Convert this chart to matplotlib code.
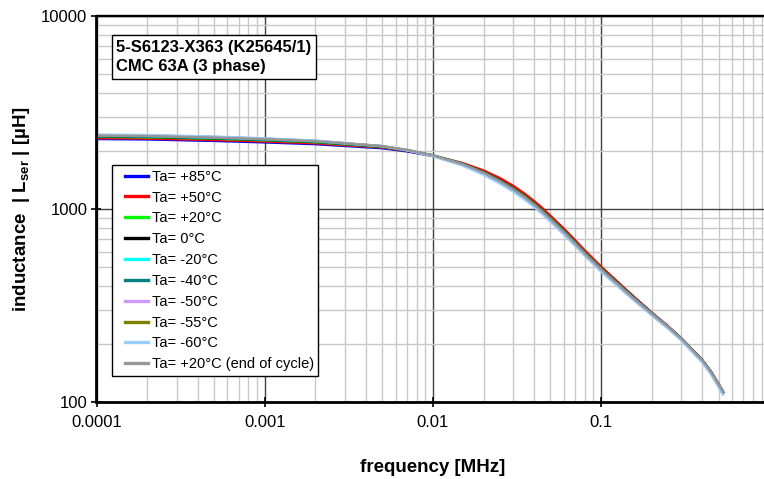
import matplotlib
matplotlib.use("Agg")
import matplotlib.pyplot as plt
from matplotlib.ticker import LogLocator, FixedLocator, FixedFormatter, NullFormatter

plt.rcParams['font.family'] = ['Liberation Sans', 'DejaVu Sans']
plt.rcParams['mathtext.fontset'] = 'custom'
plt.rcParams['mathtext.rm'] = 'Liberation Sans'
plt.rcParams['mathtext.bf'] = 'Liberation Sans:bold'

# frequency points [MHz]
freq = [0.0001, 0.0002, 0.0005, 0.001, 0.002, 0.005, 0.007, 0.01, 0.015, 0.02,
        0.025, 0.03, 0.035, 0.04, 0.045, 0.05, 0.06, 0.07, 0.08, 0.1,
        0.15, 0.2, 0.25, 0.3, 0.4, 0.45, 0.5, 0.53]

# |Lser| [uH] per temperature
L_p85 = [2304, 2293, 2252, 2213, 2167, 2064, 1989, 1880, 1718, 1572,
         1435, 1309, 1193, 1090, 999, 916, 787, 684, 606, 500,
         362, 290, 246, 213, 164, 143, 123, 113]
L_p50 = [2328, 2317, 2276, 2236, 2190, 2081, 2005, 1895, 1730, 1583,
         1445, 1318, 1201, 1097, 1006, 920, 790, 688, 609, 502,
         362, 290, 247, 214, 165, 144, 124, 114]
L_p20 = [2364, 2353, 2311, 2268, 2217, 2095, 2011, 1899, 1714, 1549,
         1403, 1277, 1165, 1064, 975, 894, 768, 670, 594, 491,
         357, 288, 245, 213, 164, 143, 123, 113]
L_0 = [2376, 2365, 2323, 2279, 2228, 2102, 2013, 1895, 1711, 1546,
       1399, 1271, 1159, 1058, 970, 889, 764, 666, 591, 488,
       356, 287, 245, 213, 164, 143, 122, 112]
L_m20 = [2388, 2377, 2334, 2289, 2237, 2110, 2019, 1895, 1705, 1538,
         1390, 1263, 1151, 1051, 963, 883, 758, 661, 586, 484,
         354, 286, 244, 212, 163, 142, 122, 112]
L_m40 = [2400, 2389, 2346, 2300, 2245, 2112, 2018, 1890, 1698, 1530,
         1382, 1254, 1142, 1043, 956, 877, 753, 657, 583, 482,
         352, 285, 243, 211, 163, 142, 122, 112]
L_m50 = [2412, 2401, 2357, 2310, 2253, 2115, 2018, 1885, 1692, 1524,
         1376, 1249, 1138, 1039, 952, 873, 750, 654, 580, 480,
         351, 284, 243, 211, 162, 141, 121, 111]
L_m55 = [2417, 2406, 2362, 2314, 2255, 2116, 2017, 1883, 1689, 1520,
         1372, 1245, 1135, 1036, 949, 870, 747, 652, 578, 478,
         350, 284, 242, 210, 162, 141, 121, 111]
L_m60 = [2429, 2418, 2373, 2323, 2262, 2117, 2015, 1880, 1680, 1503,
         1355, 1229, 1121, 1024, 938, 860, 739, 645, 573, 473,
         347, 281, 240, 208, 160, 139, 119, 109]
L_end = [2400, 2389, 2346, 2300, 2246, 2117, 2025, 1899, 1709, 1541,
         1393, 1265, 1153, 1053, 965, 885, 760, 663, 588, 486,
         355, 287, 245, 213, 164, 143, 123, 113]

labels = ['Ta= +85°C', 'Ta= +50°C', 'Ta= +20°C', 'Ta= 0°C', 'Ta= -20°C',
          'Ta= -40°C', 'Ta= -50°C', 'Ta= -55°C', 'Ta= -60°C',
          'Ta= +20°C (end of cycle)']
series = [L_p85, L_p50, L_p20, L_0, L_m20, L_m40, L_m50, L_m55, L_m60, L_end]
colors = ['#0000FF', '#FF0000', '#00FF00', '#000000', '#00FFFF',
          '#008080', '#CC99FF', '#808000', '#99CCFF', '#969696']

fig = plt.figure(figsize=(7.64, 4.79), dpi=100)
# axes runs past the right image edge like the original
ax = fig.add_axes([96.5 / 764, 77 / 479, 672.8 / 764, 386 / 479])

for y, c, lab in zip(series, colors, labels):
    ax.plot(freq, y, color=c, lw=1.7, label=lab)

ax.set_xscale('log')
ax.set_yscale('log')
ax.set_xlim(0.0001, 1)
ax.set_ylim(100, 10000)

ax.xaxis.set_major_locator(FixedLocator([0.0001, 0.001, 0.01, 0.1]))
ax.xaxis.set_major_formatter(FixedFormatter(['0.0001', '0.001', '0.01', '0.1']))
ax.xaxis.set_minor_locator(LogLocator(base=10, subs=range(2, 10)))
ax.xaxis.set_minor_formatter(NullFormatter())
ax.yaxis.set_major_locator(FixedLocator([100, 1000, 10000]))
ax.yaxis.set_major_formatter(FixedFormatter(['100', '1000', '10000']))
ax.yaxis.set_minor_locator(LogLocator(base=10, subs=range(2, 10)))
ax.yaxis.set_minor_formatter(NullFormatter())

ax.grid(True, which='minor', color='#c8c8c8', lw=1.0)
ax.grid(True, which='major', color='#404040', lw=1.0)
ax.set_axisbelow(True)

ax.tick_params(which='major', direction='inout', length=7, width=1.2,
               labelsize=12)
ax.tick_params(axis='x', pad=6)
ax.tick_params(axis='y', pad=3)
ax.tick_params(which='minor', length=0)

for side in ['left', 'bottom']:
    ax.spines[side].set_linewidth(2)
ax.spines['top'].set_linewidth(1.7)

ax.set_xlabel('frequency [MHz]', fontsize=13.5, fontweight='bold')
ax.xaxis.set_label_coords(0.5, -0.148)
ax.set_ylabel(r'inductance  | L$_{\mathbf{ser}}$ | [µH]', fontsize=13.5,
              fontweight='bold')
ax.yaxis.set_label_coords(-0.0966, 0.5)

ax.text((116.5 - 96.5) / 672.8, (402 - 40) / 386,
        '5-S6123-X363 (K25645/1)\nCMC 63A (3 phase)',
        transform=ax.transAxes, fontsize=12, fontweight='bold', va='top',
        ha='left', linespacing=1.36,
        bbox=dict(boxstyle='square,pad=0.27', fc='white', ec='black', lw=1))

leg = ax.legend(loc='upper left', bbox_to_anchor=((112 - 96.5) / 672.8, (402 - 165) / 386),
                borderaxespad=0, fontsize=10.5, handlelength=2.13, handletextpad=0.27,
                labelspacing=0.47, fancybox=False, framealpha=1, edgecolor='black',
                borderpad=0.32)
leg.get_frame().set_linewidth(1)
for h in leg.get_lines():
    h.set_linewidth(2.4)
    xd = list(h.get_xdata())
    x0 = xd[0] + 5.8
    n = len(xd)
    h.set_xdata([x0 + (xd[-1] - x0) * i / (n - 1) for i in range(n)])

fig.savefig('out.png', dpi=100)
